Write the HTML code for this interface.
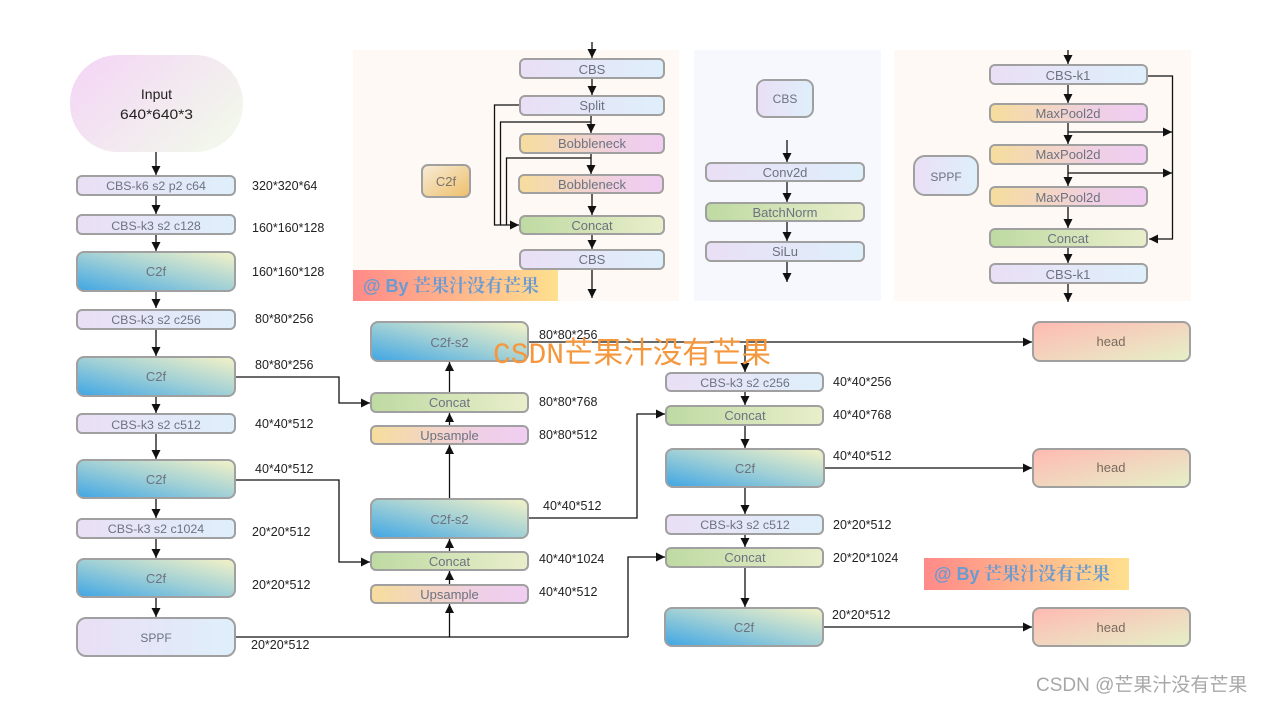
<!DOCTYPE html>
<html><head><meta charset="utf-8">
<style>
html,body{margin:0;padding:0;background:#fff;width:1263px;height:703px;overflow:hidden}
svg{display:block}
text{font-family:"Liberation Sans","Noto Sans CJK SC",sans-serif}
.n{font-size:13px;fill:#6d7280;text-anchor:middle}
.k{font-size:12.4px}
.d{font-size:12.5px;fill:#222}
.b{stroke:#a0a0a0;stroke-width:2}
.l{fill:none;stroke:#111;stroke-width:1.3}
.a{fill:none;stroke:#111;stroke-width:1.3;marker-end:url(#m)}
.w{font-family:"Noto Serif CJK SC","Liberation Serif",serif;font-size:18px;font-weight:700;fill:#6b9bd0}
.ws{font-family:"Liberation Sans",sans-serif;font-weight:700}
</style></head><body>
<svg width="1263" height="703" viewBox="0 0 1263 703" xmlns="http://www.w3.org/2000/svg">
<defs>
<marker id="m" markerUnits="userSpaceOnUse" markerWidth="10" markerHeight="10" refX="9" refY="4.5" orient="auto"><path d="M0,0L9,4.5L0,9z" fill="#111"/></marker>
<linearGradient id="cb"><stop offset="0" stop-color="#eadff6"/><stop offset="1" stop-color="#deeffa"/></linearGradient>
<linearGradient id="yp"><stop offset="0" stop-color="#f6dd9c"/><stop offset=".7" stop-color="#efcfe6"/><stop offset="1" stop-color="#f0cdf2"/></linearGradient>
<linearGradient id="gr"><stop offset="0" stop-color="#bedaa2"/><stop offset="1" stop-color="#e9eecb"/></linearGradient>
<linearGradient id="cf" x1="0" y1="1" x2="1" y2="0"><stop offset="0" stop-color="#3fa6e4"/><stop offset=".5" stop-color="#a0d0d6"/><stop offset="1" stop-color="#f5f3c6"/></linearGradient>
<linearGradient id="he" x1="0" y1="0" x2="1" y2="1"><stop offset="0" stop-color="#ffb9b2"/><stop offset="1" stop-color="#e5f1c8"/></linearGradient>
<linearGradient id="in" x1="0" y1="0" x2="1" y2=".6"><stop offset="0" stop-color="#f4d4f6"/><stop offset="1" stop-color="#f2f6ec"/></linearGradient>
<linearGradient id="c2" x1="0" y1="0" x2="1" y2="1"><stop offset="0" stop-color="#f7ecd8"/><stop offset="1" stop-color="#eebf6a"/></linearGradient>
<linearGradient id="wm"><stop offset="0" stop-color="#ff8a88"/><stop offset="1" stop-color="#ffe08e"/></linearGradient>
</defs>

<!-- panels -->
<rect x="353" y="50" width="326" height="251" fill="#fff9f5"/>
<rect x="694" y="50" width="187" height="251" fill="#f6f8fd"/>
<rect x="894" y="50" width="297" height="251" fill="#fff9f5"/>

<!-- connectors -->
<g>
<path class="a" d="M156,152V175"/><path class="a" d="M156,196V214"/><path class="a" d="M156,235V251"/>
<path class="a" d="M156,292V308"/><path class="a" d="M156,330V356"/><path class="a" d="M156,397V413"/>
<path class="a" d="M156,434V459"/><path class="a" d="M156,499V518"/><path class="a" d="M156,539V558"/><path class="a" d="M156,598V617"/>

<path class="a" d="M592,42V58"/><path class="a" d="M592,79V95"/><path class="a" d="M591,116V133"/>
<path class="a" d="M591,154V174"/><path class="a" d="M592,194V215"/><path class="a" d="M592,235V249"/><path class="a" d="M592,270V298"/>
<path class="a" d="M519,105H494.500V225H519"/>
<path class="l" d="M591,122H500.500V225"/>
<path class="l" d="M591,158H506.500V225"/>

<path class="a" d="M787,140V162"/><path class="a" d="M787,182V202"/><path class="a" d="M787,222V241"/><path class="a" d="M787,262V282"/>

<path class="a" d="M1068,50V64"/><path class="a" d="M1068,85V103"/><path class="a" d="M1068,123V144"/>
<path class="a" d="M1068,165V186"/><path class="a" d="M1068,207V228"/><path class="a" d="M1068,248V263"/><path class="a" d="M1068,284V302"/>
<path class="a" d="M1148,76H1172.500V239H1149"/>
<path class="a" d="M1068,132H1172"/><path class="a" d="M1068,173H1172"/>

<path class="a" d="M236,377H339V403H370"/>
<path class="a" d="M236,480H339V562H370"/>
<path class="a" d="M529,342H1032"/>
<path class="a" d="M745,345V372"/>
<path class="l" d="M236,637H628"/>
<path class="a" d="M628,637V557H665"/>
<path class="a" d="M449.500,637V604"/><path class="a" d="M449.500,584V571"/><path class="a" d="M449.500,551V539"/>
<path class="a" d="M449.500,498V445"/><path class="a" d="M449.500,425V413"/><path class="a" d="M449.500,392V362"/>
<path class="a" d="M529,518H637V414H665"/>
<path class="a" d="M745,392V405"/><path class="a" d="M745,426V448"/><path class="a" d="M745,488V514"/><path class="a" d="M745,535V547"/><path class="a" d="M745,568V607"/>
<path class="a" d="M825,468H1032"/><path class="a" d="M824,627H1032"/>
</g>

<!-- input -->
<rect x="70" y="55" width="173" height="97" rx="48" fill="url(#in)"/>
<text x="156.500" y="99" font-size="14" fill="#222" text-anchor="middle">Input</text>
<text x="156.500" y="119" font-size="14" fill="#222" text-anchor="middle" textLength="73" lengthAdjust="spacingAndGlyphs">640*640*3</text>

<!-- left column -->
<rect class="b" x="77" y="176" width="158" height="19" rx="5" fill="url(#cb)"/><text class="n k" x="156" y="190">CBS-k6 s2 p2 c64</text>
<rect class="b" x="77" y="215" width="158" height="19" rx="5" fill="url(#cb)"/><text class="n k" x="156" y="230">CBS-k3 s2 c128</text>
<rect class="b" x="77" y="252" width="158" height="39" rx="7" fill="url(#cf)"/><text class="n" x="156" y="276">C2f</text>
<rect class="b" x="77" y="310" width="158" height="19" rx="5" fill="url(#cb)"/><text class="n k" x="156" y="324">CBS-k3 s2 c256</text>
<rect class="b" x="77" y="357" width="158" height="39" rx="7" fill="url(#cf)"/><text class="n" x="156" y="381">C2f</text>
<rect class="b" x="77" y="414" width="158" height="19" rx="5" fill="url(#cb)"/><text class="n k" x="156" y="429">CBS-k3 s2 c512</text>
<rect class="b" x="77" y="460" width="158" height="38" rx="7" fill="url(#cf)"/><text class="n" x="156" y="484">C2f</text>
<rect class="b" x="77" y="519" width="158" height="19" rx="5" fill="url(#cb)"/><text class="n k" x="156" y="533">CBS-k3 s2 c1024</text>
<rect class="b" x="77" y="559" width="158" height="38" rx="7" fill="url(#cf)"/><text class="n" x="156" y="583">C2f</text>
<rect class="b" x="77" y="618" width="158" height="38" rx="9" fill="url(#cb)"/><text class="n" x="156" y="642" style="font-size:12px">SPPF</text>

<!-- C2f panel -->
<rect class="b" x="422" y="165" width="48" height="32" rx="6" fill="url(#c2)"/><text class="n" x="446" y="186" style="fill:#7a7468">C2f</text>
<rect class="b" x="520" y="59" width="144" height="19" rx="5" fill="url(#cb)"/><text class="n" x="592" y="74">CBS</text>
<rect class="b" x="520" y="96" width="144" height="19" rx="5" fill="url(#cb)"/><text class="n" x="592" y="110">Split</text>
<rect class="b" x="520" y="134" width="144" height="19" rx="5" fill="url(#yp)"/><text class="n" x="592" y="148">Bobbleneck</text>
<rect class="b" x="519" y="175" width="144" height="18" rx="5" fill="url(#yp)"/><text class="n" x="592" y="189">Bobbleneck</text>
<rect class="b" x="520" y="216" width="144" height="18" rx="5" fill="url(#gr)"/><text class="n" x="592" y="230">Concat</text>
<rect class="b" x="520" y="250" width="144" height="19" rx="5" fill="url(#cb)"/><text class="n" x="592" y="264">CBS</text>

<!-- watermark 1 -->
<rect x="353" y="270" width="205" height="31" fill="url(#wm)"/>
<text class="w" x="363" y="292"><tspan class="ws">@ By</tspan> 芒果汁没有芒果</text>

<!-- CBS panel -->
<rect class="b" x="757" y="80" width="56" height="37" rx="8" fill="url(#cb)"/><text class="n" x="785" y="103" style="font-size:12px">CBS</text>
<rect class="b" x="706" y="163" width="158" height="18" rx="5" fill="url(#cb)"/><text class="n" x="785" y="177">Conv2d</text>
<rect class="b" x="706" y="203" width="158" height="18" rx="5" fill="url(#gr)"/><text class="n" x="785" y="217">BatchNorm</text>
<rect class="b" x="706" y="242" width="158" height="19" rx="5" fill="url(#cb)"/><text class="n" x="785" y="256">SiLu</text>

<!-- SPPF panel -->
<rect class="b" x="914" y="156" width="64" height="39" rx="11" fill="url(#cb)"/><text class="n" x="946" y="181" style="font-size:12px">SPPF</text>
<rect class="b" x="990" y="65" width="157" height="19" rx="5" fill="url(#cb)"/><text class="n" x="1068" y="80">CBS-k1</text>
<rect class="b" x="990" y="104" width="157" height="18" rx="5" fill="url(#yp)"/><text class="n" x="1068" y="118">MaxPool2d</text>
<rect class="b" x="990" y="145" width="157" height="19" rx="5" fill="url(#yp)"/><text class="n" x="1068" y="159">MaxPool2d</text>
<rect class="b" x="990" y="187" width="157" height="19" rx="5" fill="url(#yp)"/><text class="n" x="1068" y="202">MaxPool2d</text>
<rect class="b" x="990" y="229" width="157" height="18" rx="5" fill="url(#gr)"/><text class="n" x="1068" y="243">Concat</text>
<rect class="b" x="990" y="264" width="157" height="19" rx="5" fill="url(#cb)"/><text class="n" x="1068" y="279">CBS-k1</text>

<!-- neck col 2 -->
<rect class="b" x="371" y="322" width="157" height="39" rx="7" fill="url(#cf)"/><text class="n" x="449.500" y="347">C2f-s2</text>
<rect class="b" x="371" y="393" width="157" height="19" rx="5" fill="url(#gr)"/><text class="n" x="449.500" y="407">Concat</text>
<rect class="b" x="371" y="426" width="157" height="18" rx="5" fill="url(#yp)"/><text class="n" x="449.500" y="440">Upsample</text>
<rect class="b" x="371" y="499" width="157" height="39" rx="7" fill="url(#cf)"/><text class="n" x="449.500" y="524">C2f-s2</text>
<rect class="b" x="371" y="552" width="157" height="18" rx="5" fill="url(#gr)"/><text class="n" x="449.500" y="566">Concat</text>
<rect class="b" x="371" y="585" width="157" height="18" rx="5" fill="url(#yp)"/><text class="n" x="449.500" y="599">Upsample</text>

<!-- neck col 3 -->
<rect class="b" x="666" y="373" width="157" height="18" rx="5" fill="url(#cb)"/><text class="n k" x="745" y="387">CBS-k3 s2 c256</text>
<rect class="b" x="666" y="406" width="157" height="19" rx="5" fill="url(#gr)"/><text class="n" x="745" y="420">Concat</text>
<rect class="b" x="666" y="449" width="158" height="38" rx="7" fill="url(#cf)"/><text class="n" x="745" y="473">C2f</text>
<rect class="b" x="666" y="515" width="157" height="19" rx="5" fill="url(#cb)"/><text class="n k" x="745" y="529">CBS-k3 s2 c512</text>
<rect class="b" x="666" y="548" width="157" height="19" rx="5" fill="url(#gr)"/><text class="n" x="745" y="562">Concat</text>
<rect class="b" x="665" y="608" width="158" height="38" rx="7" fill="url(#cf)"/><text class="n" x="744" y="632">C2f</text>

<!-- heads -->
<rect class="b" x="1033" y="322" width="157" height="39" rx="7" fill="url(#he)"/><text class="n" x="1111" y="346" style="fill:#7a6a60">head</text>
<rect class="b" x="1033" y="449" width="157" height="38" rx="7" fill="url(#he)"/><text class="n" x="1111" y="472" style="fill:#7a6a60">head</text>
<rect class="b" x="1033" y="608" width="157" height="38" rx="7" fill="url(#he)"/><text class="n" x="1111" y="632" style="fill:#7a6a60">head</text>

<!-- size labels -->
<text class="d" x="252" y="190">320*320*64</text>
<text class="d" x="252" y="232">160*160*128</text>
<text class="d" x="252" y="276">160*160*128</text>
<text class="d" x="255" y="323">80*80*256</text>
<text class="d" x="255" y="369">80*80*256</text>
<text class="d" x="255" y="428">40*40*512</text>
<text class="d" x="255" y="473">40*40*512</text>
<text class="d" x="252" y="536">20*20*512</text>
<text class="d" x="252" y="589">20*20*512</text>
<text class="d" x="251" y="649">20*20*512</text>
<text class="d" x="539" y="339">80*80*256</text>
<text class="d" x="539" y="406">80*80*768</text>
<text class="d" x="539" y="439">80*80*512</text>
<text class="d" x="543" y="510">40*40*512</text>
<text class="d" x="539" y="563">40*40*1024</text>
<text class="d" x="539" y="596">40*40*512</text>
<text class="d" x="833" y="386">40*40*256</text>
<text class="d" x="833" y="419">40*40*768</text>
<text class="d" x="833" y="460">40*40*512</text>
<text class="d" x="833" y="529">20*20*512</text>
<text class="d" x="833" y="562">20*20*1024</text>
<text class="d" x="832" y="619">20*20*512</text>

<!-- watermark 2 -->
<rect x="924" y="558" width="205" height="32" fill="url(#wm)"/>
<text class="w" x="934" y="580"><tspan class="ws">@ By</tspan> 芒果汁没有芒果</text>

<!-- overlay watermarks -->
<text x="493" y="363" font-size="30" fill="#f5973c" textLength="278" lengthAdjust="spacingAndGlyphs"><tspan style="font-family:'Liberation Mono',monospace">CSDN</tspan><tspan style="font-family:'Noto Sans CJK SC',sans-serif">芒果汁没有芒果</tspan></text>
<text x="1036" y="691" font-size="19" fill="#a8a8a8">CSDN @芒果汁没有芒果</text>
</svg>
</body></html>
